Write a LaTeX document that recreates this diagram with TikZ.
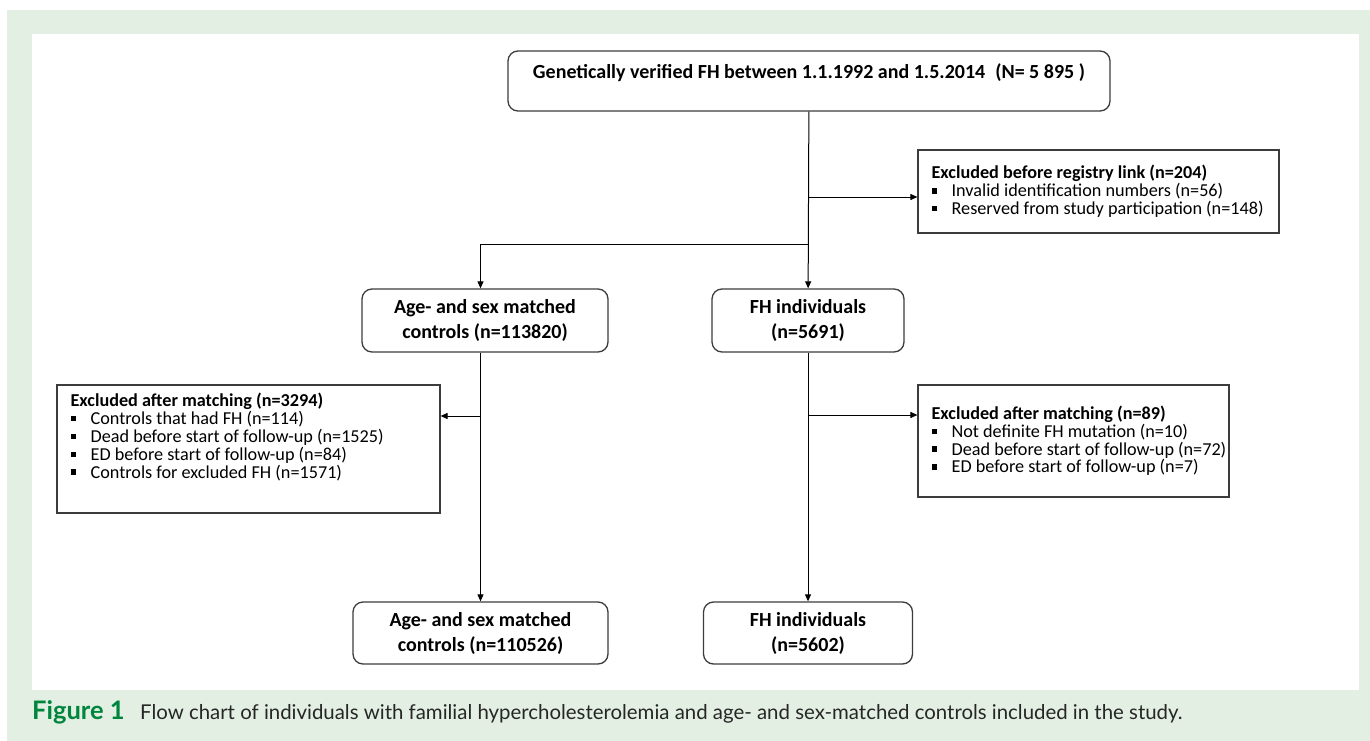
\documentclass[tikz,border=0pt]{standalone}
\usepackage{fontspec}
\setmainfont{Carlito}
\newfontfamily\capfont{Lato}
\usetikzlibrary{arrows.meta}
\definecolor{panelgreen}{RGB}{226,239,226}
\definecolor{figgreen}{RGB}{0,133,62}
\definecolor{boxline}{RGB}{60,60,60}
\newcommand{\sqb}{\raisebox{0.18em}{\rule{0.3em}{0.3em}}\hspace{0.8em}}
\tikzset{
    stagebox/.style={draw=boxline, line width=1.3pt, rounded corners=10pt, fill=white, align=center, font=\fontsize{20}{25}\selectfont\bfseries, inner sep=0pt},
    exclbox/.style={draw=boxline, line width=1.2pt, fill=white, inner sep=0pt},
    excltext/.style={align=left, font=\fontsize{18.2}{17.8}\selectfont, inner sep=0pt, anchor=west},
    flowarrow/.style={-{Triangle[length=7pt,width=6pt]}, line width=1pt},
    figlabel/.style={font=\capfont\fontsize{25.5}{28}\selectfont\bfseries, text=figgreen, inner sep=0pt, anchor=base west},
    captext/.style={font=\capfont\fontsize{20.4}{24}\selectfont, text=black!85, inner sep=0pt, anchor=base west},
}
\begin{document}
\begin{tikzpicture}[x=1pt, y=-1pt]
    % page and panel
    \fill[white] (0,0) rectangle (1370,741);
    \useasboundingbox (0,0) rectangle (1370,741);
    \fill[panelgreen] (7,10) rectangle (1370,741);
    \fill[white] (32,34) rectangle (1359,690);

    % stages
    \node[stagebox, minimum width=602pt, minimum height=60pt, text height=28pt, text depth=32pt] (top) at (809,81)
          {Genetically verified FH between 1.1.1992 and 1.5.2014\enspace(N= 5 895 )};
    \node[stagebox, minimum width=246pt, minimum height=63pt] (ctrl1) at (485,320.5)
          {Age- and sex matched\\controls (n=113820)};
    \node[stagebox, minimum width=192pt, minimum height=63pt] (fh1) at (808,320.5)
          {FH individuals\\(n=5691)};
    \node[stagebox, minimum width=255pt, minimum height=62pt] (ctrl2) at (480.5,633)
          {Age- and sex matched\\controls (n=110526)};
    \node[stagebox, minimum width=209pt, minimum height=62pt] (fh2) at (808,633)
          {FH individuals\\(n=5602)};

    % exclusions
    \node[exclbox, minimum width=361pt, minimum height=83pt] (excl1) at (1098.5,191.5) {};
    \node[excltext] (excl1txt) at ([xshift=14pt]excl1.west)
          {\textbf{Excluded before registry link (n=204)}\\
           \sqb Invalid identification numbers (n=56)\\
           \sqb Reserved from study participation (n=148)};
    \node[exclbox, minimum width=383pt, minimum height=128pt] (excl2) at (248.5,449) {};
    \node[excltext] (excl2txt) at ([xshift=14pt, yshift=12pt]excl2.west)
          {\textbf{Excluded after matching (n=3294)}\\
           \sqb Controls that had FH (n=114)\\
           \sqb Dead before start of follow-up (n=1525)\\
           \sqb ED before start of follow-up (n=84)\\
           \sqb Controls for excluded FH (n=1571)};
    \node[exclbox, minimum width=311pt, minimum height=112pt] (excl3) at (1073.5,441) {};
    \node[excltext] (excl3txt) at ([xshift=14pt]excl3.west)
          {\textbf{Excluded after matching (n=89)}\\
           \sqb Not definite FH mutation (n=10)\\
           \sqb Dead before start of follow-up (n=72)\\
           \sqb ED before start of follow-up (n=7)};

    % connectors
    \coordinate (reg) at (808,197);
    \coordinate (fork) at (808,244);
    \coordinate (cut1) at (480.5,416);
    \coordinate (cut2) at (808,415);
    \draw[flowarrow] (top) -- (fh1);
    \draw[flowarrow] (reg) -- (reg -| excl1.west);
    \draw[flowarrow] (fork) -| (ctrl1.north -| ctrl2.north);
    \draw[flowarrow] (ctrl1.south -| ctrl2.north) -- (ctrl2.north);
    \draw[flowarrow] (cut1) -- (cut1 -| excl2.east);
    \draw[flowarrow] (fh1) -- (fh2);
    \draw[flowarrow] (cut2) -- (cut2 -| excl3.west);

    % caption
    \node[figlabel] (fig) at (32,719) {Figure 1};
    \node[captext] (cap) at (140,719)
          {Flow chart of individuals with familial hypercholesterolemia and age- and sex-matched controls included in the study.};
\end{tikzpicture}
\end{document}
